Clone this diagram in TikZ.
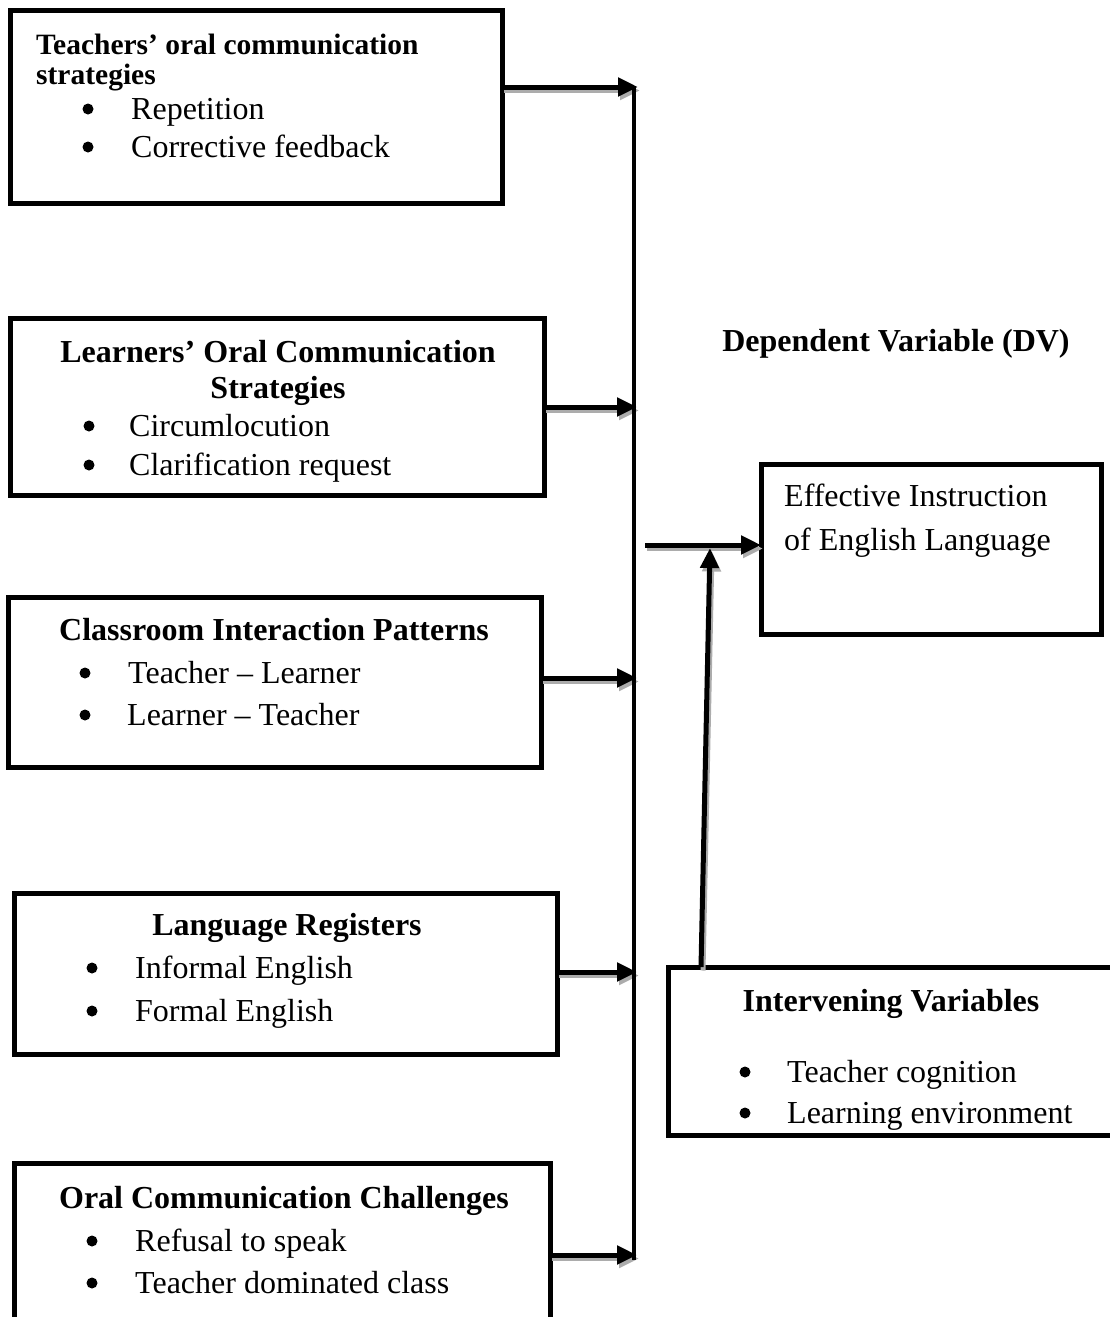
\documentclass[tikz,border=0pt]{standalone}
\usepackage{fontspec}
\setmainfont{Liberation Serif}
\usetikzlibrary{arrows.meta}
\tikzset{
  box/.style={draw, line width=5pt, rectangle, inner sep=0pt, outer sep=0pt},
  hd/.style={font=\fontsize{32}{38}\selectfont\bfseries, anchor=base, inner sep=0pt},
  hdl/.style={font=\fontsize{29.5}{34}\selectfont\bfseries, anchor=base west, inner sep=0pt},
  item/.style={font=\fontsize{32}{38}\selectfont, anchor=base west, inner sep=0pt},
  dot/.style={circle, fill=black, draw=none, inner sep=0pt, minimum size=11pt},
  conn/.style={line width=5pt, -{Triangle[length=20pt,width=18pt]}},
  shad/.style={conn, draw=gray!65, fill=gray!65, transform canvas={xshift=2pt,yshift=-3.5pt}},
  trunk/.style={line width=4pt}
}
\begin{document}
\begin{tikzpicture}[x=1pt,y=-1pt]
\useasboundingbox (0,0) rectangle (1110,1317);
\clip (0,0) rectangle (1110,1317);
\fill[white] (0,0) rectangle (1110,1317);

% boxes
\node[box, minimum width=492pt, minimum height=193pt] (b1) at (256,106.5) {};
\node[box, minimum width=534pt, minimum height=177pt] (b2) at (277,406.5) {};
\node[box, minimum width=533pt, minimum height=170pt] (b3) at (274.5,682) {};
\node[box, minimum width=543pt, minimum height=161pt] (b4) at (285.5,973.5) {};
\node[box, minimum width=536pt, minimum height=177pt] (b5) at (282,1251.5) {};
\node[box, minimum width=340pt, minimum height=170pt] (dv) at (931,549) {};
\node[box, minimum width=472pt, minimum height=168pt] (iv) at (904,1051) {};

% box 1 text
\node[hdl] (t1a) at (36,54) {Teachers’ oral communication};
\node[hdl] (t1b) at (36,84) {strategies};
\node[dot] (d1a) at (88,109) {};
\node[item] (i1a) at (131,119) {Repetition};
\node[dot] (d1b) at (88,147) {};
\node[item] (i1b) at (131,157) {Corrective feedback};

% box 2 text
\node[hd] (t2a) at (278,362) {Learners’ Oral Communication};
\node[hd] (t2b) at (278,398) {Strategies};
\node[dot] (d2a) at (89,426) {};
\node[item] (i2a) at (129,436) {Circumlocution};
\node[dot] (d2b) at (89,465) {};
\node[item] (i2b) at (129,475) {Clarification request};

% box 3 text
\node[hd] (t3a) at (274,640) {Classroom Interaction Patterns};
\node[dot] (d3a) at (85,673) {};
\node[item] (i3a) at (128,683) {Teacher – Learner};
\node[dot] (d3b) at (85,715) {};
\node[item] (i3b) at (127,725) {Learner – Teacher};

% box 4 text
\node[hd] (t4a) at (287,935) {Language Registers};
\node[dot] (d4a) at (92,968) {};
\node[item] (i4a) at (135,978) {Informal English};
\node[dot] (d4b) at (92,1011) {};
\node[item] (i4b) at (135,1021) {Formal English};

% box 5 text
\node[hd] (t5a) at (284,1208) {Oral Communication Challenges};
\node[dot] (d5a) at (92,1241) {};
\node[item] (i5a) at (135,1251) {Refusal to speak};
\node[dot] (d5b) at (92,1283) {};
\node[item] (i5b) at (135,1293) {Teacher dominated class};

% DV
\node[hd] (dvl) at (896,351) {Dependent Variable (DV)};
\node[item] (dva) at (784,506) {Effective Instruction};
\node[item] (dvb) at (784,550) {of English Language};

% intervening
\node[hd] (ivl) at (891,1011) {Intervening Variables};
\node[dot] (d6a) at (745,1072) {};
\node[item] (i6a) at (787,1082) {Teacher cognition};
\begin{scope}
\clip (670,1050) rectangle (1110,1129);
\node[dot] (d6b) at (745,1113) {};
\node[item] (i6b) at (787,1123) {Learning environment};
\end{scope}

% connectors
\coordinate (top) at (634,87);
\coordinate (bot) at (634,1260);
\coordinate (a1) at (638,87);
\coordinate (a2) at (637,407);
\coordinate (a3) at (637,678);
\coordinate (a4) at (637,972);
\coordinate (a5) at (637,1255);
\coordinate (m) at (645,545);
\coordinate (upb) at (701,967);
\coordinate (upt) at (710,548);

\foreach \b/\a in {b1/a1,b2/a2,b3/a3,b4/a4,b5/a5}{
  \draw[shad] (\b.east |- \a) -- (\a);
}
\draw[shad] (m) -- (dv.west |- m);
\draw[shad] (upb) -- (upt);

\draw[trunk] (top) -- (bot);
\foreach \b/\a in {b1/a1,b2/a2,b3/a3,b4/a4,b5/a5}{
  \draw[conn] (\b.east |- \a) -- (\a);
}
\draw[conn] (m) -- (dv.west |- m);
\draw[conn] (upb) -- (upt);
\end{tikzpicture}
\end{document}
